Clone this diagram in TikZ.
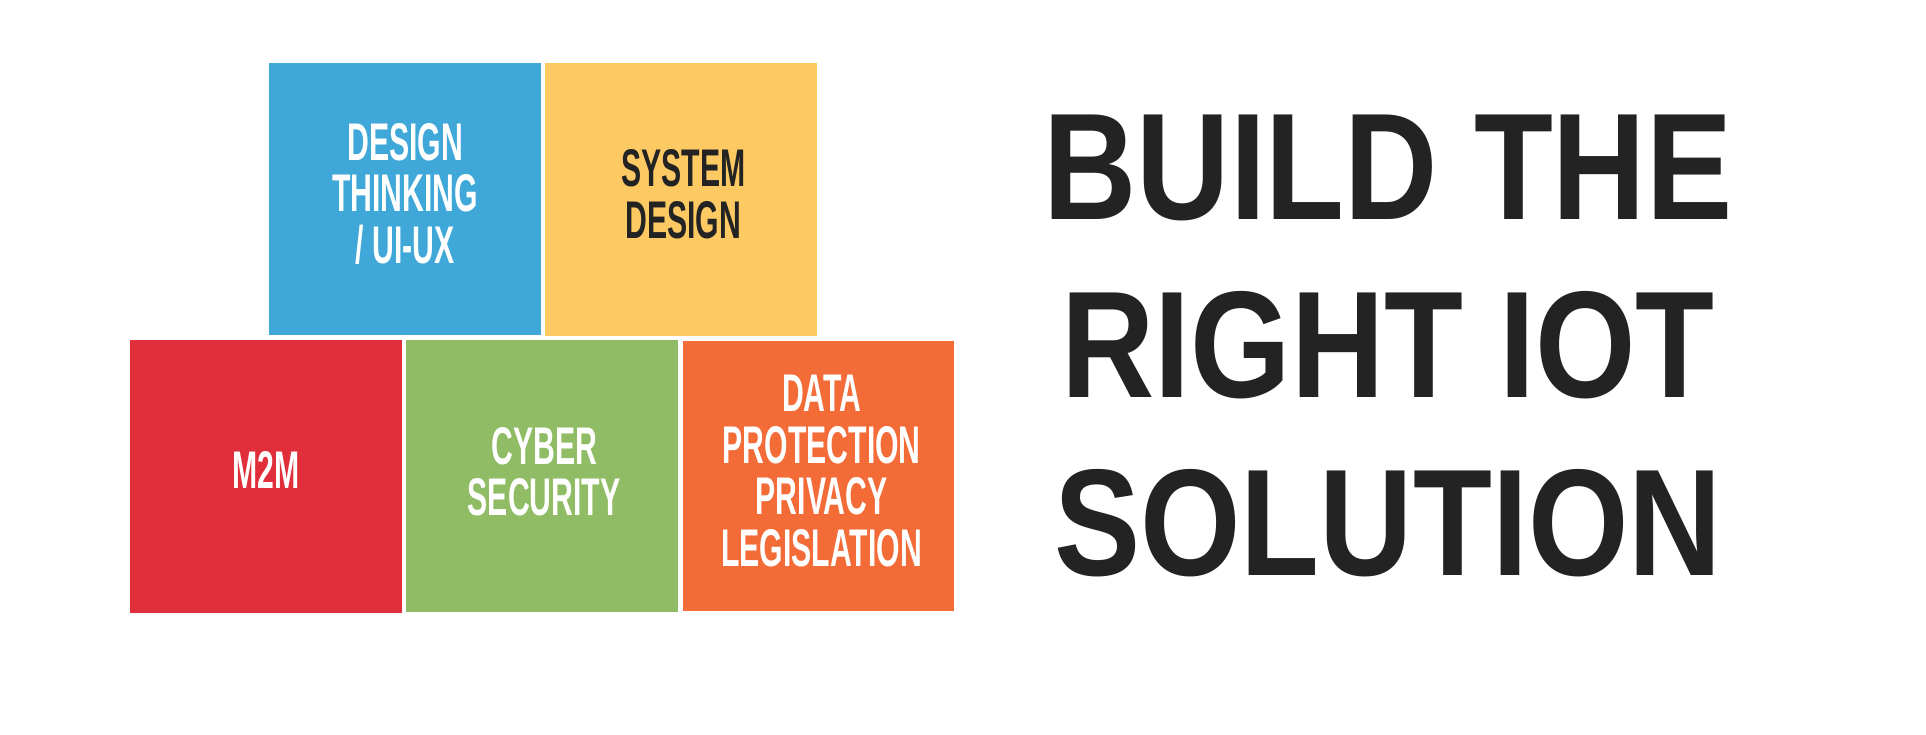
\documentclass[tikz,border=0pt]{standalone}
\usepackage{fontspec}
\newfontfamily\boxfont{Liberation Sans}[FakeStretch=0.57]
\newfontfamily\titlefont{Liberation Sans}[FakeStretch=0.85]
\definecolor{cblue}{HTML}{40A8D9}
\definecolor{cyellow}{HTML}{FCC963}
\definecolor{cred}{HTML}{E02F3A}
\definecolor{cgreen}{HTML}{8FBC64}
\definecolor{corange}{HTML}{F36B37}
\definecolor{cdark}{HTML}{232323}
\tikzset{
  tile/.style={rectangle, anchor=north west, inner sep=0pt, draw=none},
  tiletext/.style={inner sep=0pt, align=center, font=\boxfont\bfseries\fontsize{53}{51.5}\selectfont},
  titletext/.style={inner sep=0pt, align=center, text=cdark, font=\titlefont\bfseries\fontsize{152}{178}\selectfont}
}
\begin{document}
\begin{tikzpicture}[x=1pt,y=-1pt]
\useasboundingbox (0,0) rectangle (1926,734);
\fill[white] (0,0) rectangle (1926,734);
% tiles
\node[tile, fill=cblue,   minimum width=272pt, minimum height=272.5pt] (dt) at (269,62.5) {};
\node[tile, fill=cyellow, minimum width=272pt, minimum height=273pt]   (sd) at (545,62.5) {};
\node[tile, fill=cred,    minimum width=272pt, minimum height=272.5pt] (mm) at (130,340) {};
\node[tile, fill=cgreen,  minimum width=272pt, minimum height=272pt]   (cs) at (406,340) {};
\node[tile, fill=corange, minimum width=271pt, minimum height=270pt]   (dp) at (683,341) {};
% tile texts
\node[tiletext, text=white] (dtt) at ([yshift=5pt]dt.center) {DESIGN\\THINKING\\/ UI-UX};
\node[tiletext, text=cdark] (sdt) at ([xshift=2pt,yshift=5pt]sd.center) {SYSTEM\\DESIGN};
\node[tiletext, text=white] (mmt) at ([yshift=6pt]mm.center) {M2M};
\node[tiletext, text=white] (cst) at ([xshift=2pt,yshift=4.5pt]cs.center) {CYBER\\SECURITY};
\node[tiletext, text=white] (dpt) at ([xshift=3pt,yshift=5pt]dp.center) {DATA\\PROTECTION\\PRIVACY\\LEGISLATION};
% title
\node[titletext] (title) at (1388,345.5) {BUILD THE\\RIGHT IOT\\SOLUTION};
\end{tikzpicture}
\end{document}
